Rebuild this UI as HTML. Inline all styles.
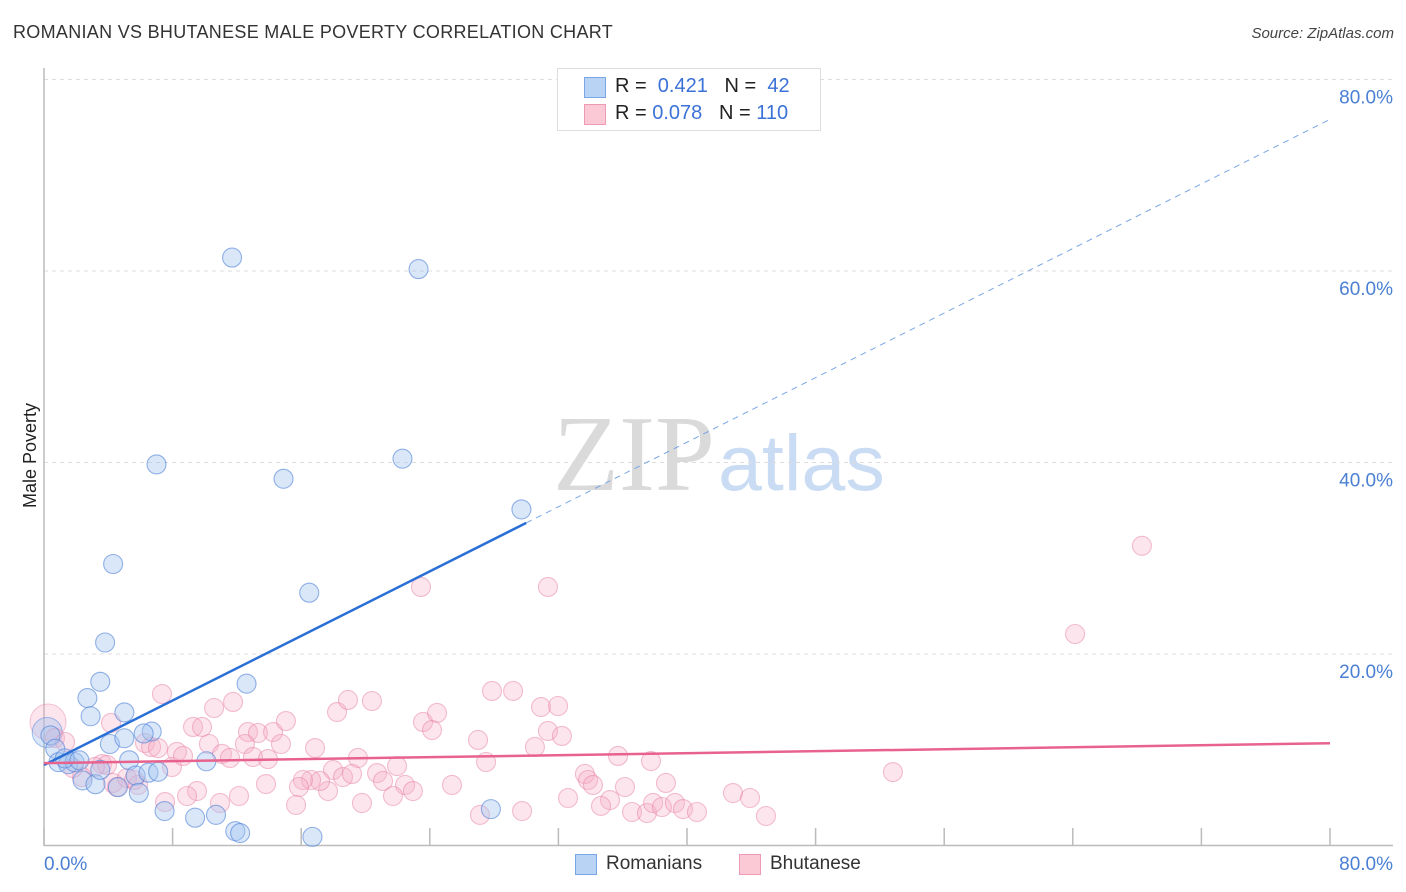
<!DOCTYPE html>
<html><head><meta charset="utf-8"><style>
body{margin:0;background:#fff;font-family:"Liberation Sans",sans-serif;}
#wrap{position:relative;width:1406px;height:892px;overflow:hidden;}
.t{position:absolute;white-space:nowrap;}
</style></head><body>
<div id="wrap">
<div class="t" style="left:13px;top:22px;font-size:18px;color:#333;letter-spacing:0.3px;">ROMANIAN VS BHUTANESE MALE POVERTY CORRELATION CHART</div>
<div class="t" style="right:12px;top:25px;font-size:15px;color:#444;font-style:italic;">Source: ZipAtlas.com</div>
<div class="t" style="left:-22px;top:445px;font-size:18px;color:#222;transform:rotate(-90deg);">Male Poverty</div>
<svg id="svg" width="1406" height="892" style="position:absolute;left:0;top:0"></svg>
<div style="position:absolute;left:557px;top:68px;width:262px;height:61px;border:1px solid #ddd;background:#fff;">
 <div style="position:absolute;left:26px;top:8px;width:20px;height:19px;background:#b9d3f5;border:1px solid #7aa6e6;"></div>
 <div class="t" style="left:57px;top:6px;font-size:20px;color:#222;">R = &nbsp;<span style="color:#3a72d8">0.421</span>&nbsp;&nbsp; N = &nbsp;<span style="color:#3a72d8">42</span></div>
 <div style="position:absolute;left:26px;top:35px;width:20px;height:19px;background:#fbc8d6;border:1px solid #ef9ab5;"></div>
 <div class="t" style="left:57px;top:33px;font-size:20px;color:#222;">R = <span style="color:#3a72d8">0.078</span>&nbsp;&nbsp; N = <span style="color:#3a72d8">110</span></div>
</div>
<div style="position:absolute;left:575px;top:854px;">
 <div style="position:absolute;left:0;top:0;width:20px;height:19px;background:#b9d3f5;border:1px solid #7aa6e6;"></div>
 <div class="t" style="left:31px;top:-1px;font-size:19px;color:#333;">Romanians</div>
</div>
<div style="position:absolute;left:739px;top:854px;">
 <div style="position:absolute;left:0;top:0;width:20px;height:19px;background:#fbc8d6;border:1px solid #ef9ab5;"></div>
 <div class="t" style="left:31px;top:-1px;font-size:19px;color:#333;">Bhutanese</div>
</div>
</div>
<script>
const blueX=[11.7,23.3,7.0,22.3,14.9,29.7,4.3,16.5,3.8,3.5,12.6,2.7,2.9,5.0,6.7,6.2,0.4,0.7,4.1,5.0,5.3,10.1,0.9,1.5,1.9,2.4,3.2,4.6,5.7,6.5,7.1,5.9,7.5,9.4,10.7,11.9,12.2,16.7,27.8,1.3,2.2,3.5];
const blueY=[61.4,60.2,39.8,40.4,38.3,35.1,29.4,26.4,21.2,17.1,16.9,15.4,13.5,13.9,11.9,11.7,11.5,10.1,10.6,11.2,8.9,8.8,8.7,8.5,8.7,6.8,6.4,6.1,7.3,7.6,7.7,5.5,3.6,2.9,3.2,1.5,1.3,0.9,3.8,9.1,8.9,7.9];
const pinkX=[7.34,10.58,11.76,4.17,9.27,9.83,10.26,11.07,11.57,12.69,13.31,14.25,15.05,14.74,12.5,13.0,13.93,16.86,18.23,18.91,20.4,19.53,17.98,18.6,19.16,20.72,21.09,21.96,22.46,22.95,21.71,19.78,17.67,17.17,16.61,16.11,15.86,15.68,13.81,12.13,10.95,9.52,8.9,7.53,7.96,8.27,8.65,6.28,6.66,7.09,3.61,3.92,3.17,2.36,4.29,4.54,5.16,5.85,5.6,0.68,1.31,1.8,23.58,24.45,24.14,27.0,27.87,29.18,27.5,25.38,27.12,29.74,30.92,31.98,31.35,32.22,30.54,32.6,33.65,33.84,34.15,35.71,36.14,37.76,38.69,35.21,34.65,36.58,37.51,37.89,38.44,39.25,39.75,40.62,42.86,43.92,44.91,68.3,64.14,52.81,31.35,23.45];
const pinkY=[15.82,14.36,14.99,12.8,12.38,12.38,10.6,9.56,9.14,11.85,11.75,11.85,13.0,10.6,10.6,9.24,9.03,10.18,13.94,15.2,15.09,9.14,7.89,7.15,7.47,7.57,6.74,8.3,6.32,5.69,5.17,4.44,5.69,6.74,6.84,6.84,6.11,4.23,6.42,5.17,4.44,5.69,5.17,4.54,8.2,9.77,9.35,10.7,10.29,10.18,8.51,8.41,8.2,7.15,6.53,6.11,7.05,6.32,6.84,11.23,10.81,8.09,12.9,13.84,12.06,11.02,16.14,16.14,8.72,6.32,3.19,3.6,14.46,14.57,11.96,11.44,10.29,4.96,7.47,6.84,6.32,9.35,6.11,8.82,6.53,4.75,4.13,3.5,3.39,4.44,4.02,4.44,3.81,3.5,5.48,4.96,3.08,31.3,22.09,7.67,27.0,27.0];
const yTicks=[20,40,60,80];
const yTickLabels=["20.0%","40.0%","60.0%","80.0%"];
const xTicks=[0,8,16,24,32,40,48,56,64,72,80];
const blueTrend=[8.4,0.843];
const pinkTrend=[8.6,0.026];
const svg=document.getElementById('svg');
const NS='http://www.w3.org/2000/svg';
const sx=v=>44+v*16.075, sy=v=>845.5-v*9.575;
function mk(tag,attrs){const e=document.createElementNS(NS,tag);for(const k in attrs)e.setAttribute(k,attrs[k]);svg.appendChild(e);return e;}
let w=mk('text',{x:553,y:490,'font-size':108,'font-family':'Liberation Serif,serif',fill:'#dadada'});w.textContent='ZIP';


w=mk('text',{x:718,y:490,'font-size':79,'font-family':'Liberation Sans,sans-serif',fill:'#cadcf3'});w.textContent='atlas';


yTicks.forEach((t,i)=>{
 const g=mk('line',{x1:44,x2:1393,y1:sy(t),y2:sy(t),stroke:'#ddd','stroke-dasharray':'4,4'});
 
 
 const l=mk('text',{x:1393,y:sy(t)+24,'text-anchor':'end','font-size':19,fill:'#4a7fd4','font-family':'Liberation Sans,sans-serif'});
 l.textContent=yTickLabels[i];
 
 
});
let ax=mk('line',{x1:44,x2:44,y1:68,y2:846,stroke:'#bbb','stroke-width':1.5});


ax=mk('line',{x1:44,x2:1393,y1:845.5,y2:845.5,stroke:'#bbb','stroke-width':1.5});


xTicks.forEach(t=>{const k=mk('line',{x1:sx(t),x2:sx(t),y1:828,y2:845,stroke:'#bbb','stroke-width':1.5});
 
 });
let xl=mk('text',{x:44,y:870,'font-size':19,fill:'#4a7fd4','font-family':'Liberation Sans,sans-serif'});xl.textContent='0.0%';


xl=mk('text',{x:1393,y:870,'text-anchor':'end','font-size':19,fill:'#4a7fd4','font-family':'Liberation Sans,sans-serif'});xl.textContent='80.0%';


let bp=mk('circle',{cx:sx(0.25),cy:sy(12.9),r:18,fill:'rgba(247,170,195,0.3)',stroke:'rgba(232,130,165,0.45)'});


bp=mk('circle',{cx:sx(0.2),cy:sy(11.8),r:15,fill:'rgba(160,195,240,0.4)',stroke:'rgba(80,130,220,0.5)'});


pinkX.forEach((x,i)=>{const c=mk('circle',{cx:sx(x),cy:sy(pinkY[i]),r:9.5,fill:'rgba(247,175,198,0.32)',stroke:'rgba(232,130,165,0.5)','stroke-width':1.1});
 
 });
blueX.forEach((x,i)=>{const c=mk('circle',{cx:sx(x),cy:sy(blueY[i]),r:9.5,fill:'rgba(165,198,240,0.42)',stroke:'rgba(80,130,215,0.6)','stroke-width':1.1});
 
 });
let tl=mk('line',{x1:sx(0),y1:sy(blueTrend[0]),x2:sx(30),y2:sy(blueTrend[0]+30*blueTrend[1]),stroke:'#2a6fd6','stroke-width':2.5});


tl=mk('line',{x1:sx(30),y1:sy(blueTrend[0]+30*blueTrend[1]),x2:sx(80),y2:sy(blueTrend[0]+80*blueTrend[1]),stroke:'#7aa6e6','stroke-width':1,'stroke-dasharray':'6,5'});


tl=mk('line',{x1:sx(0),y1:sy(pinkTrend[0]),x2:sx(80),y2:sy(pinkTrend[0]+80*pinkTrend[1]),stroke:'#e8628e','stroke-width':2.5});


</script>
</body></html>
